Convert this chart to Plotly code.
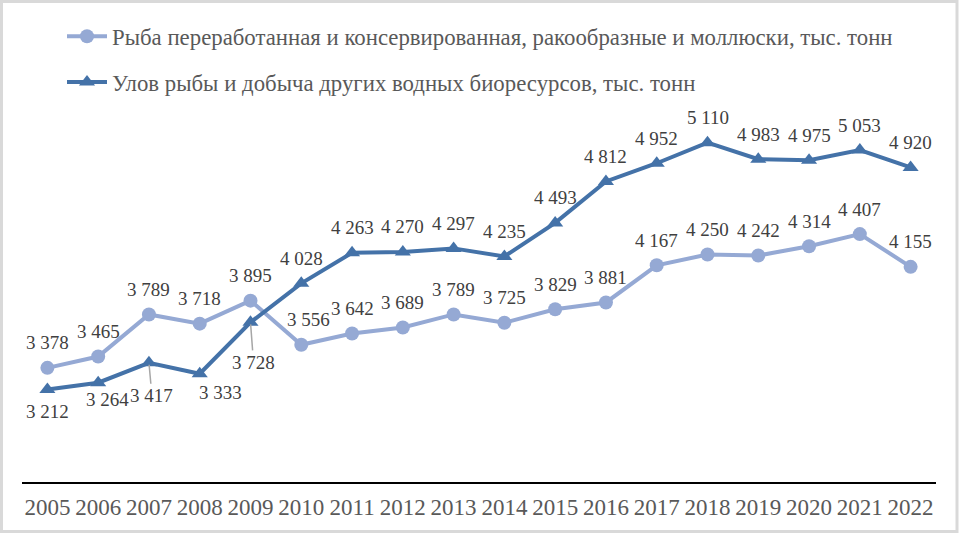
import plotly.graph_objects as go

years = list(range(2005, 2023))
processed = [3378, 3465, 3789, 3718, 3895, 3556, 3642, 3689, 3789, 3725,
             3829, 3881, 4167, 4250, 4242, 4314, 4407, 4155]
catch = [3212, 3264, 3417, 3333, 3728, 4028, 4263, 4270, 4297, 4235,
         4493, 4812, 4952, 5110, 4983, 4975, 5053, 4920]
name_processed = "Рыба переработанная и консервированная, ракообразные и моллюски, тыс. тонн"
name_catch = "Улов рыбы и добыча других водных биоресурсов, тыс. тонн"

C_LIGHT = "#95a9d4"
C_DARK = "#4472a8"
FONT = "'Liberation Serif', 'Times New Roman', 'DejaVu Serif', serif"

W, H = 959, 534
L, R, T, B = 22, 23, 92, 52
PW, PH = W - L - R, H - T - B


def fmt(v):
    return f"{v:,}".replace(",", " ")


fig = go.Figure()
fig.add_trace(go.Scatter(
    x=years, y=processed, name=name_processed, mode="lines+markers",
    line=dict(color=C_LIGHT, width=4), marker=dict(symbol="circle", size=14, color=C_LIGHT),
    legendgroup="a", xaxis="x", yaxis="y"))
fig.add_trace(go.Scatter(
    x=years, y=catch, name=name_catch, mode="lines+markers",
    line=dict(color=C_DARK, width=4), marker=dict(symbol="triangle-up", size=14, color=C_DARK),
    legendgroup="b", xaxis="x", yaxis="y"))

ann = []
lab_font = dict(family=FONT, size=19, color="#404040")
for i, (yr, v) in enumerate(zip(years, processed)):
    xs = 7 if yr == 2010 else 0
    ann.append(dict(x=yr, y=v, text=fmt(v), showarrow=False, xshift=xs, yshift=25, font=lab_font))
below = {2005: (0, -22), 2006: (9, -17), 2008: (21, -19)}
leader = {2007: (3, 33), 2009: (3, 40)}
for yr, v in zip(years, catch):
    if yr in below:
        xs, ys = below[yr]
        ann.append(dict(x=yr, y=v, text=fmt(v), showarrow=False, xshift=xs, yshift=ys, font=lab_font))
    elif yr in leader:
        ax, ay = leader[yr]
        ann.append(dict(x=yr, y=v, text=fmt(v), showarrow=True, arrowhead=0, arrowwidth=1.5,
                        arrowcolor="#a6a6a6", ax=ax, ay=ay, standoff=2, font=lab_font))
    else:
        ann.append(dict(x=yr, y=v, text=fmt(v), showarrow=False, yshift=25, font=lab_font))

bounds = [y - 0.5 for y in years] + [years[-1] + 0.5]
xr = [years[0] - 0.5, years[-1] + 0.5]

fig.update_layout(
    width=W, height=H,
    margin=dict(l=L, r=R, t=T, b=B, autoexpand=False),
    paper_bgcolor="white", plot_bgcolor="white",
    font=dict(family=FONT, color="#595959"),
    showlegend=True,
    legend=dict(xref="container", yref="container", x=62 / W, y=1 - 15 / H,
                xanchor="left", yanchor="top", orientation="v",
                font=dict(family=FONT, size=22.8, color="#595959"),
                tracegroupgap=13, itemwidth=40, bgcolor="rgba(0,0,0,0)"),
    xaxis=dict(range=xr, tickmode="array", tickvals=years, ticktext=[str(y) for y in years],
               ticks="", showline=True, linecolor="black", linewidth=2, showgrid=False,
               zeroline=False, tickfont=dict(family=FONT, size=23, color="#595959"),
               tickangle=0, ticklabelstandoff=3),
    xaxis2=dict(range=xr, overlaying="x", anchor="y", side="bottom", tickmode="array",
                tickvals=bounds, ticks="outside", ticklen=7, tickwidth=2, tickcolor="black",
                showticklabels=False, showline=False, showgrid=False, zeroline=False),
    xaxis3=dict(range=xr, overlaying="x", anchor="y", side="bottom", tickmode="array",
                tickvals=bounds, ticks="inside", ticklen=7, tickwidth=2, tickcolor="black",
                showticklabels=False, showline=False, showgrid=False, zeroline=False),
    yaxis=dict(range=[2500, 5500], visible=False, showgrid=False, zeroline=False),
    annotations=ann,
    shapes=[dict(type="rect", xref="paper", yref="paper",
                 x0=(1.5 - L) / PW, x1=(957 - L) / PW,
                 y0=(482 - 531.5) / PH, y1=(482 - 1.5) / PH,
                 line=dict(color="#d9d9d9", width=3), fillcolor="rgba(0,0,0,0)", layer="below")],
)

fig.write_html("out.html", config={"displayModeBar": False},
               post_script="document.body.style.margin='0';document.body.style.overflow='hidden';")
